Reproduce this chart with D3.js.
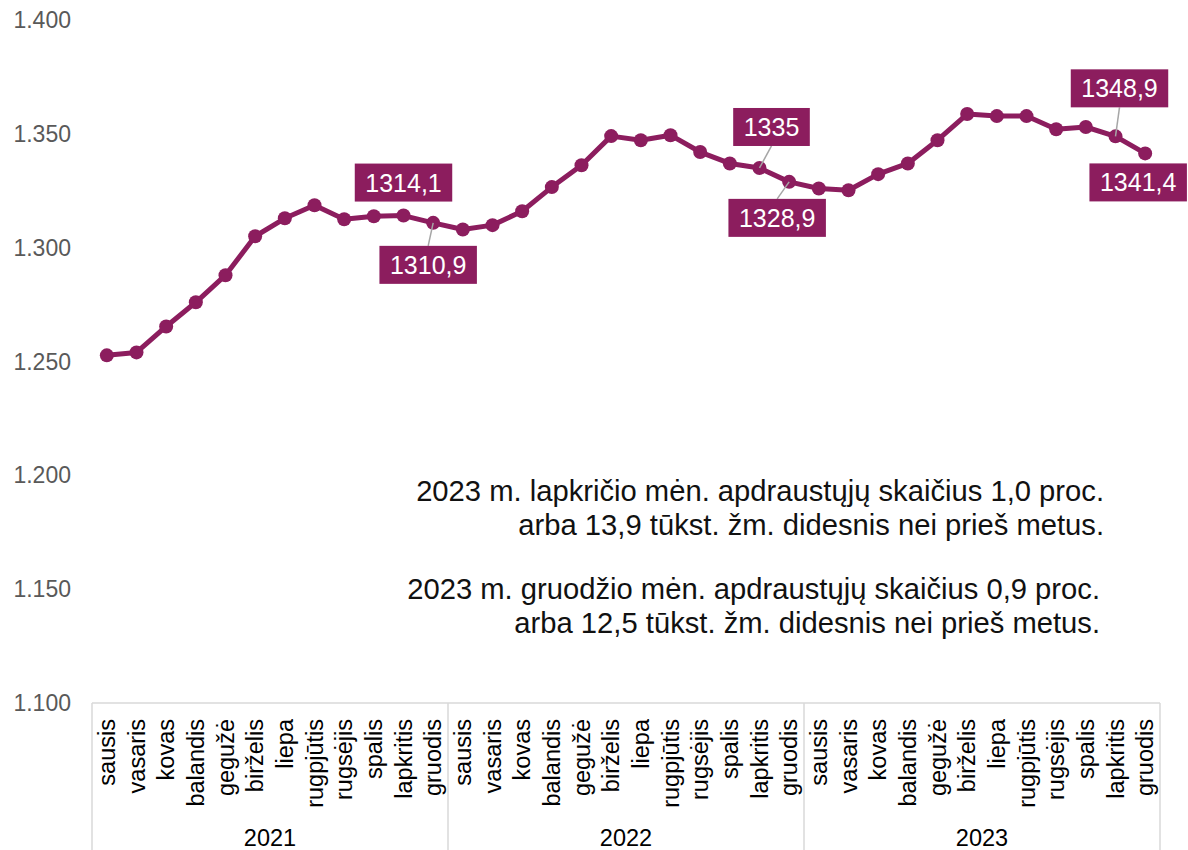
<!DOCTYPE html>
<html lang="lt">

<head>
  <meta charset="utf-8">
  <title>Apdraustųjų skaičius</title>
  <script src="https://cdn.jsdelivr.net/npm/d3@7"></script>
  <style>
    body {
      margin: 0;
      background: #ffffff;
    }

    svg text {
      font-family: "Liberation Sans", Arial, sans-serif;
    }

    .tick-y {
      fill: #595959;
      font-size: 23px;
    }

    .month {
      fill: #000;
      font-size: 23.5px;
    }

    .year {
      fill: #000;
      font-size: 23.5px;
    }

    .note {
      fill: #111;
      font-size: 29.2px;
      text-anchor: end;
    }

    .lbl text {
      fill: #fff;
      font-size: 25px;
      text-anchor: middle;
    }
  </style>
</head>

<body>
  <div id="chart"></div>

  <script>
    // data (tūkst. apdraustųjų)
    var years = ["2021", "2022", "2023"];
    var months = ["sausis", "vasaris", "kovas", "balandis", "gegužė", "birželis",
      "liepa", "rugpjūtis", "rugsėjis", "spalis", "lapkritis", "gruodis"];
    var values2021 = [1252.7, 1254.0, 1265.4, 1276.0, 1287.9, 1305.0,
      1312.9, 1318.6, 1312.5, 1313.8, 1314.1, 1310.9];
    var values2022 = [1308.0, 1309.9, 1316.0, 1326.6, 1336.2, 1349.0,
      1347.2, 1349.4, 1342.0, 1337.0, 1335.0, 1328.9];
    var values2023 = [1326.0, 1325.2, 1332.3, 1337.0, 1347.2, 1358.7,
      1357.8, 1357.8, 1352.0, 1353.0, 1348.9, 1341.4];
    var yTicks = [1100, 1150, 1200, 1250, 1300, 1350, 1400];
    var labelled = [10, 11, 22, 23, 34, 35]; // which points get a value box
    var notes = [
      ["2023 m. lapkričio mėn. apdraustųjų skaičius 1,0 proc.",
        "arba 13,9 tūkst. žm. didesnis nei prieš metus."],
      ["2023 m. gruodžio mėn. apdraustųjų skaičius 0,9 proc.",
        "arba 12,5 tūkst. žm. didesnis nei prieš metus."]
    ];

    var W = 1188, H = 850;
    var mLeft = 92, mRight = 1160, mTop = 20, mBottom = 703;
    var color = "#8c1d5e";

    var allVals = values2021.concat(values2022, values2023);
    var data = [];
    years.forEach(function (yr, yi) {
      months.forEach(function (m, mi) {
        data.push({ key: yr + "-" + mi, year: yr, month: m, value: allVals[yi * 12 + mi] });
      });
    });

    var svg = d3.select("#chart").append("svg")
      .attr("width", W)
      .attr("height", H);

    var x = d3.scaleBand()
      .domain(data.map(d => d.key))
      .range([mLeft, mRight])
      .padding(0);

    var y = d3.scaleLinear()
      .domain([1100, 1400])
      .range([mBottom, mTop]);

    var lt = d3.formatLocale({ decimal: ",", thousands: ".", grouping: [3], currency: ["", ""] });
    var fmtTick = lt.format(",.0f");
    var fmtVal = v => (Math.round(v * 10) % 10 === 0 ? String(Math.round(v)) : lt.format(".1f")(v));

    // y axis labels (no axis line)
    svg.append("g").selectAll("text")
      .data(yTicks)
      .enter().append("text")
      .attr("class", "tick-y")
      .attr("x", 71)
      .attr("y", d => y(d) + 8)
      .attr("text-anchor", "end")
      .text(d => fmtTick(d));

    // category box
    var grid = svg.append("g")
      .attr("stroke", "#d9d9d9")
      .attr("stroke-width", 1.5)
      .attr("fill", "none");
    grid.append("line")
      .attr("x1", mLeft).attr("x2", mRight)
      .attr("y1", mBottom).attr("y2", mBottom);
    var yearEdges = years.map(yr => x(yr + "-0")).concat([mRight]);
    grid.selectAll("line.sep")
      .data(yearEdges)
      .enter().append("line")
      .attr("class", "sep")
      .attr("x1", d => d).attr("x2", d => d)
      .attr("y1", mBottom).attr("y2", H);

    // month labels
    svg.append("g").selectAll("text")
      .data(data)
      .enter().append("text")
      .attr("class", "month")
      .attr("text-anchor", "end")
      .attr("transform", d => "translate(" + (x(d.key) + x.bandwidth() / 2 + 8) + "," + 719 + ") rotate(-90)")
      .text(d => d.month);

    // year labels
    svg.append("g").selectAll("text")
      .data(years)
      .enter().append("text")
      .attr("class", "year")
      .attr("text-anchor", "middle")
      .attr("x", (d, i) => (yearEdges[i] + yearEdges[i + 1]) / 2)
      .attr("y", 846)
      .text(d => d);

    // line
    var cx = d => x(d.key) + x.bandwidth() / 2;
    svg.append("path")
      .datum(data)
      .attr("fill", "none")
      .attr("stroke", color)
      .attr("stroke-width", 5)
      .attr("stroke-linejoin", "round")
      .attr("d", d3.line().x(cx).y(d => y(d.value)));

    svg.append("g").selectAll("circle")
      .data(data)
      .enter().append("circle")
      .attr("cx", cx)
      .attr("cy", d => y(d.value))
      .attr("r", 7)
      .attr("fill", color);

    // value boxes: offset of box centre from the point, and whether a leader is drawn
    var boxOffsets = {
      10: [0, -33, false],
      11: [-5, 42, true],
      22: [12, -41, true],
      23: [-12, 36, true],
      34: [4, -48, true],
      35: [-7, 29, false]
    };
    var boxH = 38, padX = 10.5;

    var leaders = svg.append("g");
    labelled.forEach(function (i) {
      var d = data[i];
      var px = cx(d), py = y(d.value);
      var o = boxOffsets[i];
      var bx = px + o[0], by = py + o[1];
      if (o[2]) {
        var ey = o[1] < 0 ? by + boxH / 2 : by - boxH / 2;
        leaders.append("line")
          .attr("x1", px).attr("y1", py)
          .attr("x2", bx).attr("y2", ey)
          .attr("stroke", "#a6a6a6")
          .attr("stroke-width", 1.5);
      }
      var g = svg.append("g").attr("class", "lbl");
      var t = g.append("text")
        .attr("x", bx)
        .attr("y", by + 9)
        .text(fmtVal(d.value));
      var bw = t.node().getComputedTextLength() + padX * 2;
      g.insert("rect", "text")
        .attr("x", bx - bw / 2)
        .attr("y", by - boxH / 2)
        .attr("width", bw)
        .attr("height", boxH)
        .attr("fill", color);
    });

    // notes
    var noteG = svg.append("g");
    notes.forEach(function (lines, k) {
      var rx = k === 0 ? 1104 : 1100;
      var y0 = k === 0 ? 501 : 599;
      lines.forEach(function (s, j) {
        noteG.append("text")
          .attr("class", "note")
          .attr("x", rx)
          .attr("y", y0 + j * 34)
          .text(s);
      });
    });
  </script>
</body>

</html>
